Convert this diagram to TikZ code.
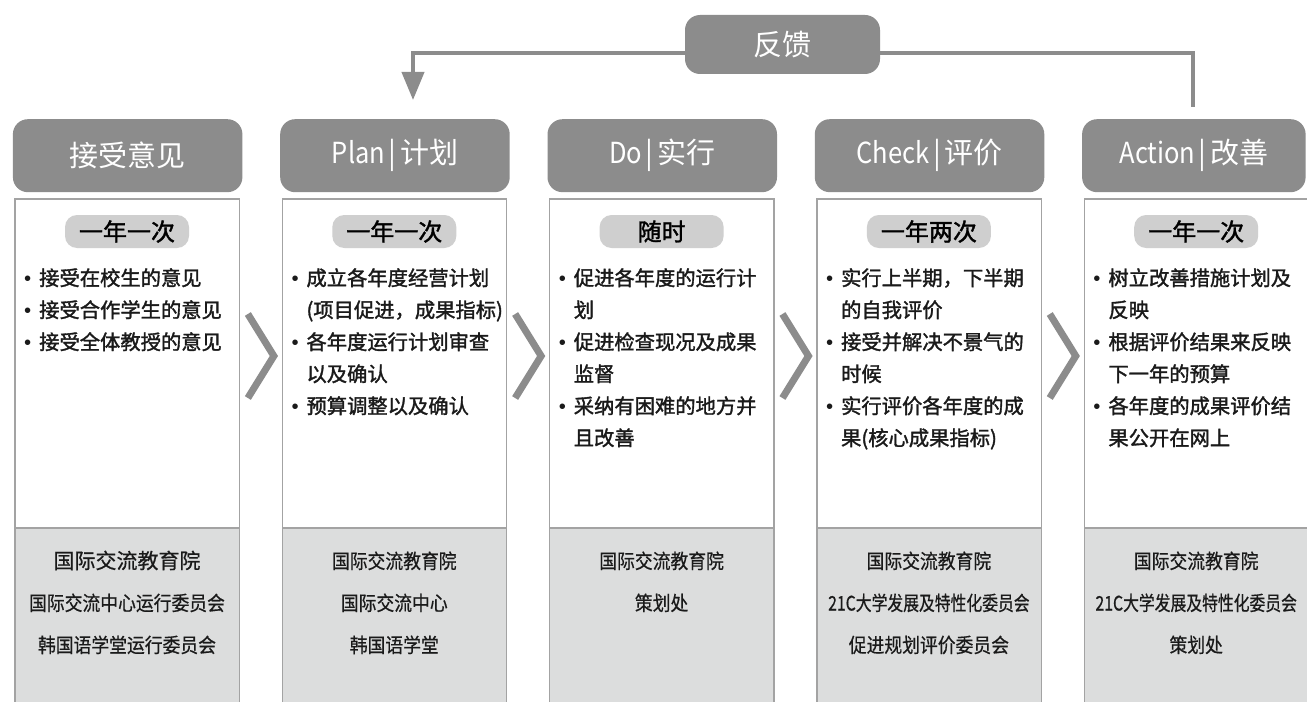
\documentclass[tikz,border=0pt]{standalone}
\usepackage{fontspec}
\setmainfont{Noto Sans CJK SC}
\newfontfamily\hdlat{Noto Sans CJK SC}[FakeStretch=0.88]
\newfontfamily\bodyfnt{Noto Sans CJK SC}[FakeBold=1.6]
\newfontfamily\btmfnt{Noto Sans CJK SC}[FakeStretch=0.89,FakeBold=0.6]
\newfontfamily\btmnar{Noto Sans CJK SC}[FakeStretch=0.79,FakeBold=0.6]
\newfontfamily\btmwide{Noto Sans CJK SC}[FakeBold=0.6]
\newfontfamily\bulfnt{Liberation Sans}
\usetikzlibrary{arrows.meta,calc}
\definecolor{hdgray}{HTML}{8C8C8C}
\definecolor{pillgray}{HTML}{CFCFCF}
\definecolor{btmgray}{HTML}{DCDDDD}
\definecolor{bordergray}{HTML}{A3A3A3}
\definecolor{txtdark}{HTML}{1A1A1A}
\newcommand\bu{\makebox[15bp][l]{{\bulfnt •}}}
\newcommand\ind{\hspace*{15bp}}
\newcommand\vsep{\hspace{3.5bp}|\hspace{3.5bp}}
\tikzset{
  header/.style={fill=hdgray, rounded corners=15bp, minimum height=73bp, inner sep=0pt,
    text=white, font=\fontsize{29bp}{34bp}\selectfont, anchor=north west},
  bodybox/.style={anchor=north west, minimum width=224bp, minimum height=512bp, inner sep=0pt},
  btmbox/.style={anchor=north west, fill=btmgray, minimum width=224bp, minimum height=185bp, inner sep=0pt},
  border/.style={draw=bordergray, line width=1.4bp},
  pill/.style={fill=pillgray, rounded corners=12bp, minimum width=124bp, minimum height=33bp,
    inner sep=0pt, text=black, font=\bodyfnt\fontsize{24bp}{28bp}\selectfont},
  bul/.style={anchor=base west, inner sep=0pt, text=txtdark, font=\bodyfnt\fontsize{20.3bp}{24bp}\selectfont},
  btm/.style={anchor=base, inner sep=0pt, text=txtdark, font=\btmfnt\fontsize{20bp}{24bp}\selectfont},
  chev/.style={draw=hdgray, line width=7bp, miter limit=10, line cap=butt},
  fbline/.style={draw=hdgray, line width=4bp},
}
\newcommand\colbul[3]{%
  \foreach \t [count=\j] in {#3} {\node[bul] (t#1-\j) at (#2, {285.5+32*(\j-1)}) {\t};}}
\newcommand\colbtm[3]{%
  \foreach \t [count=\j] in {#3} {\node[btm] (s#1-\j) at (#2, {568.5+42*(\j-1)}) {\t};}}
\begin{document}
\begin{tikzpicture}[x=1bp,y=-1bp]
\useasboundingbox (0,0) rectangle (1307,701);
\clip (0,0) rectangle (1307,701);
\fill[white] (0,0) rectangle (1307,701);

% feedback
\coordinate (lvl) at (0,53.5);
\coordinate (arrtip) at (413,100);
\coordinate (acttop) at (1193,107);
\node[header, anchor=center, minimum width=195bp, minimum height=59bp] (fb) at (782.5,44.5) {反馈};
\draw[fbline, -{Triangle[length=28bp,width=22bp]}] (fb.west |- lvl) -| (arrtip);
\draw[fbline] (fb.east |- lvl) -| (acttop);

% headers
\node[header, minimum width=229.5bp] (h1) at (12.7,119) {接受意见};
\node[header, minimum width=229.5bp] (h2) at (280,119) {{\hdlat Plan}\vsep 计划};
\node[header, minimum width=229.5bp] (h3) at (547.3,119) {{\hdlat Do}\vsep 实行};
\node[header, minimum width=229.5bp] (h4) at (814.6,119) {{\hdlat Check}\vsep 评价};
\node[header, minimum width=223.5bp] (h5) at (1081.9,119) {{\hdlat Action}\vsep 改善};

% body boxes
\foreach \i/\L in {1/15,2/282.3,3/549.6,4/816.9,5/1084.2}{
  \node[bodybox] (b\i) at (\L,199) {};
  \node[btmbox] (g\i) at (\L,528) {};
  \draw[border] (b\i.south west) -- (b\i.north west) -- (b\i.north east) -- (b\i.south east);
  \draw[border] (g\i.north west) -- (g\i.north east);
}

% pills
\node[pill] (p1) at (127,231.5) {一年一次};
\node[pill] (p2) at (394.3,231.5) {一年一次};
\node[pill] (p3) at (661.6,231.5) {随时};
\node[pill] (p4) at (928.9,231.5) {一年两次};
\node[pill] (p5) at (1196.2,231.5) {一年一次};

% chevrons
\foreach \a/\b in {1/2,2/3,3/4,4/5}{
  \draw[chev] ($(b\a.north east)!0.5!(b\b.north west)+(-13,115)$) -- ++(26,42) -- ++(-26,42);
}

% bullet texts
\colbul{1}{24}{{\bu 接受在校生的意见},{\bu 接受合作学生的意见},{\bu 接受全体教授的意见}}
\colbul{2}{291.3}{{\bu 成立各年度经营计划},{\ind(项目促进，成果指标)},{\bu 各年度运行计划审查},{\ind 以及确认},{\bu 预算调整以及确认}}
\colbul{3}{558.6}{{\bu 促进各年度的运行计},{\ind 划},{\bu 促进检查现况及成果},{\ind 监督},{\bu 采纳有困难的地方并},{\ind 且改善}}
\colbul{4}{825.9}{{\bu 实行上半期，下半期},{\ind 的自我评价},{\bu 接受并解决不景气的},{\ind 时候},{\bu 实行评价各年度的成},{\ind 果(核心成果指标)}}
\colbul{5}{1093.2}{{\bu 树立改善措施计划及},{\ind 反映},{\bu 根据评价结果来反映},{\ind 下一年的预算},{\bu 各年度的成果评价结},{\ind 果公开在网上}}

% bottom texts
\colbtm{1}{127}{{\btmwide\fontsize{21bp}{24bp}\selectfont 国际交流教育院},{国际交流中心运行委员会},{韩国语学堂运行委员会}}
\colbtm{2}{394.3}{{国际交流教育院},{国际交流中心},{韩国语学堂}}
\colbtm{3}{661.6}{{国际交流教育院},{策划处}}
\colbtm{4}{928.9}{{国际交流教育院},{\btmnar 21C大学发展及特性化委员会},{促进规划评价委员会}}
\colbtm{5}{1196.2}{{国际交流教育院},{\btmnar 21C大学发展及特性化委员会},{策划处}}
\end{tikzpicture}
\end{document}
